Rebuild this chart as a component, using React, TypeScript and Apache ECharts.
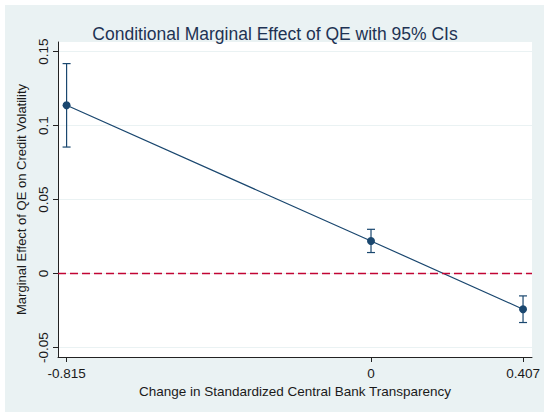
import React, { useEffect, useRef } from "react";
import * as echarts from "echarts";

const xValues = [-0.815, 0, 0.407];
const estimates = [0.1137, 0.022, -0.0241];
const ciLower = [0.0855, 0.0142, -0.0331];
const ciUpper = [0.1419, 0.0299, -0.0151];
const xTicks = [-0.815, 0, 0.407];
const yTicks = [-0.05, 0, 0.05, 0.1, 0.15];

const NAVY = "#1a476f";
const FONT = "Liberation Sans, Arial, sans-serif";

export default function App() {
  const ref = useRef<HTMLDivElement>(null);
  useEffect(() => {
    document.body.style.margin = "0";
    const chart = echarts.init(ref.current!, null, { renderer: "svg" });
    const errData = xValues.map((x, i) => [x, ciLower[i], ciUpper[i]]);
    chart.setOption({
      animation: false,
      backgroundColor: "#ffffff",
      graphic: [
        {
          type: "rect",
          z: -10,
          silent: true,
          shape: { x: 5, y: 5, width: 539, height: 407 },
          style: { fill: "#eaf2f3" },
        },
      ],
      title: {
        text: "Conditional Marginal Effect of QE with 95% CIs",
        left: "center",
        top: 20,
        textStyle: { fontFamily: FONT, fontSize: 17.5, fontWeight: "normal", color: "#1e3354" },
      },
      grid: {
        left: 58,
        right: 18,
        top: 42,
        bottom: 60,
        show: true,
        backgroundColor: "#ffffff",
        borderWidth: 0,
      },
      xAxis: {
        type: "value",
        min: -0.838,
        max: 0.431,
        name: "Change in Standardized Central Bank Transparency",
        nameLocation: "middle",
        nameGap: 23,
        nameTextStyle: { fontFamily: FONT, fontSize: 13.5, color: "#1a1a1a" },
        axisLine: { show: true, onZero: false, lineStyle: { color: "#222", width: 1 } },
        axisTick: { show: true, length: 5, customValues: xTicks, lineStyle: { color: "#222" } },
        axisLabel: {
          customValues: xTicks,
          fontFamily: FONT,
          fontSize: 13.5,
          color: "#1a1a1a",
          margin: 9,
          formatter: (v: number) => String(v),
        },
        splitLine: { show: false },
      },
      yAxis: {
        type: "value",
        min: -0.0564,
        max: 0.1565,
        name: "Marginal Effect of QE on Credit Volatility",
        nameLocation: "middle",
        nameRotate: 90,
        nameGap: 27,
        nameTextStyle: { fontFamily: FONT, fontSize: 13, color: "#1a1a1a" },
        axisLine: { show: true, onZero: false, lineStyle: { color: "#222", width: 1 } },
        axisTick: { show: true, length: 5, customValues: yTicks, lineStyle: { color: "#222" } },
        axisLabel: {
          customValues: yTicks,
          rotate: 90,
          fontFamily: FONT,
          fontSize: 13.5,
          color: "#1a1a1a",
          margin: 8,
          formatter: (v: number) => String(v),
        },
        splitLine: { show: true, lineStyle: { color: "#eaf2f3", width: 1 } },
      },
      series: [
        {
          type: "custom",
          data: errData,
          z: 3,
          renderItem: (params: any, api: any) => {
            const x = api.value(0);
            const lo = api.coord([x, api.value(1)]);
            const hi = api.coord([x, api.value(2)]);
            const w = 4;
            const st = { stroke: NAVY, lineWidth: 1.2 };
            return {
              type: "group",
              children: [
                { type: "line", shape: { x1: lo[0], y1: lo[1], x2: hi[0], y2: hi[1] }, style: st },
                { type: "line", shape: { x1: lo[0] - w, y1: lo[1], x2: lo[0] + w, y2: lo[1] }, style: st },
                { type: "line", shape: { x1: hi[0] - w, y1: hi[1], x2: hi[0] + w, y2: hi[1] }, style: st },
              ],
            };
          },
        },
        {
          type: "line",
          data: xValues.map((x, i) => [x, estimates[i]]),
          z: 4,
          symbol: "circle",
          symbolSize: 8,
          showSymbol: true,
          itemStyle: { color: NAVY },
          lineStyle: { color: NAVY, width: 1.2 },
          markLine: {
            silent: true,
            symbol: "none",
            label: { show: false },
            lineStyle: { color: "#c10534", type: [8, 4], width: 1.3 },
            data: [{ yAxis: 0 }],
          },
        },
      ],
    });
    return () => chart.dispose();
  }, []);
  return <div ref={ref} style={{ width: 550, height: 417 }} />;
}
